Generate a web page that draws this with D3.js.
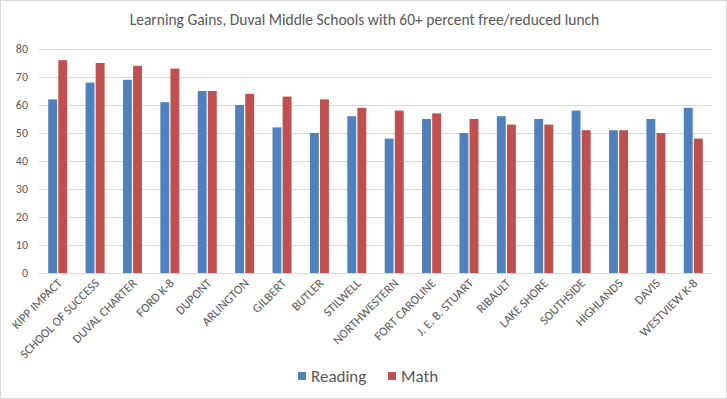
<!DOCTYPE html>
<html>
<head>
<meta charset="utf-8">
<script src="https://cdn.jsdelivr.net/npm/d3@7"></script>
<style>
  body { margin: 0; background: #fff; }
  svg { display: block; font-family: Carlito, "Liberation Sans", Arial, sans-serif; }
</style>
</head>
<body>
<div id="chart"></div>
<script>

const schools = ["KIPP IMPACT", "SCHOOL OF SUCCESS", "DUVAL CHARTER", "FORD K-8", "DUPONT",
  "ARLINGTON", "GILBERT", "BUTLER", "STILWELL", "NORTHWESTERN", "FORT CAROLINE",
  "J. E. B. STUART", "RIBAULT", "LAKE SHORE", "SOUTHSIDE", "HIGHLANDS", "DAVIS", "WESTVIEW K-8"]

const reading = [62, 68, 69, 61, 65, 60, 52, 50, 56, 48, 55, 50, 56, 55, 58, 51, 55, 59]
const math = [76, 75, 74, 73, 65, 64, 63, 62, 59, 58, 57, 55, 53, 53, 51, 51, 50, 48]

const seriesNames = ["Reading", "Math"]
const seriesColors = ["#4F81BD", "#C0504D"]
const yTicks = [0, 10, 20, 30, 40, 50, 60, 70, 80]

const width = 727
const height = 399
const margin = { top: 49, right: 15, bottom: 126, left: 39 }

const svg = d3.select("#chart")
.append("svg")
.attr("width", width)
.attr("height", height)

svg.append("rect")
.attr("x", 0.5)
.attr("y", 0.5)
.attr("width", width - 1)
.attr("height", height - 1)
.attr("fill", "#fff")
.attr("stroke", "#d9d9d9")

svg.append("text")
.attr("x", width / 2 + 1)
.attr("y", 25)
.attr("text-anchor", "middle")
.attr("font-size", 15.5)
.attr("fill", "#595959")
.text("Learning Gains, Duval Middle Schools with 60+ percent free/reduced lunch")

const x = d3.scaleBand()
.domain(schools)
.range([margin.left, width - margin.right])

const x1 = d3.scaleBand()
.domain(seriesNames)
.range([0, 19])
.paddingInner(0.12)

const y = d3.scaleLinear()
.domain([0, 80])
.range([height - margin.bottom, margin.top])

// gridlines
svg.append("g")
.selectAll("line")
.data(yTicks)
.join("line")
.attr("x1", margin.left)
.attr("x2", width - margin.right)
.attr("y1", (d) => Math.round(y(d)) + 0.5)
.attr("y2", (d) => Math.round(y(d)) + 0.5)
.attr("stroke", "#d9d9d9")

svg.append("g")
.selectAll("text")
.data(yTicks)
.join("text")
.attr("x", margin.left - 11)
.attr("y", (d) => y(d))
.attr("dy", "0.35em")
.attr("text-anchor", "end")
.attr("font-size", 12)
.attr("fill", "#595959")
.text((d) => d)

const seriesData = [reading, math]

seriesData.forEach((values, i) => {
  svg.append("g")
  .selectAll("rect")
  .data(values)
  .join("rect")
  .attr("x", (d, j) => x(schools[j]) + x.bandwidth() / 2 - 9.5 + x1(seriesNames[i]))
  .attr("y", (d) => y(d))
  .attr("width", x1.bandwidth())
  .attr("height", (d) => y(0) - y(d))
  .attr("fill", seriesColors[i])
})

// x labels, rotated
svg.append("g")
.selectAll("text")
.data(schools)
.join("text")
.attr("transform", (d) => `translate(${x(d) + x.bandwidth() / 2 + 5},${y(0) + 11}) rotate(-45)`)
.attr("text-anchor", "end")
.attr("font-size", 12.5)
.attr("fill", "#595959")
.text((d) => d)

// legend
const legend = svg.append("g")
.attr("transform", "translate(298,372)")

const legendX = [0, 90]

seriesNames.forEach((name, i) => {
  legend.append("rect")
  .attr("x", legendX[i])
  .attr("y", 0)
  .attr("width", 8)
  .attr("height", 8)
  .attr("fill", seriesColors[i])

  legend.append("text")
  .attr("x", legendX[i] + 13)
  .attr("y", 10)
  .attr("font-size", 17)
  .attr("fill", "#595959")
  .text(name)
})

</script>
</body>
</html>
